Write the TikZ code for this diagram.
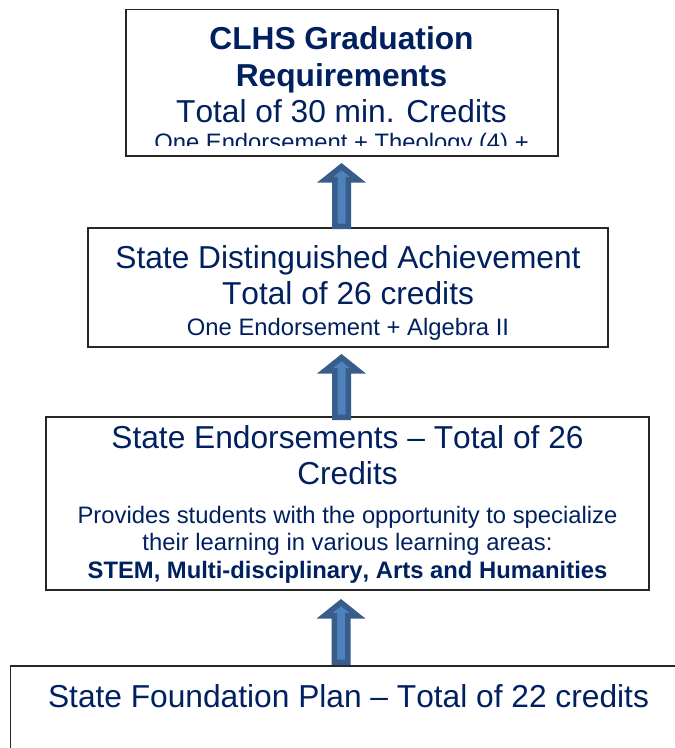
\documentclass[tikz,border=0pt]{standalone}
\usepackage{fontspec}
\setmainfont[Kerning=Off]{Liberation Sans}
\usetikzlibrary{calc}
\definecolor{txt}{RGB}{0,32,96}
\definecolor{arrfill}{RGB}{79,129,189}
\definecolor{arrline}{RGB}{56,93,138}
\tikzset{
  box/.style={draw=black!85, line width=1.2pt, fill=white, inner sep=0pt},
  bigtext/.style={font=\fontsize{31.7}{36}\selectfont, text=txt, anchor=base, inner sep=0pt},
  smalltext/.style={font=\fontsize{23.8}{27}\selectfont, text=txt, anchor=base, inner sep=0pt},
  blockarr/.style={draw=arrline, fill=arrfill, line width=5.5pt, line join=miter}
}
\newcommand\myuparrow[1]{%
  \draw[blockarr] ($(#1)+(-6.75,0)$) -- ($(#1)+(-6.75,-46.5)$) -- ($(#1)+(-16.5,-46.5)$)
    -- ($(#1)+(0,-59.7)$) -- ($(#1)+(16.5,-46.5)$) -- ($(#1)+(6.75,-46.5)$)
    -- ($(#1)+(6.75,0)$) -- cycle;}
\begin{document}
\begin{tikzpicture}[x=1pt,y=-1pt]
  \clip (0,0) rectangle (675,748);
  \fill[white] (0,0) rectangle (675,748);

  % boxes
  \node[box, minimum width=432pt, minimum height=146.7pt] (b1) at (342,82.6) {};
  \node[box, minimum width=520pt, minimum height=119pt] (b2) at (348,287.5) {};
  \node[box, minimum width=603pt, minimum height=173pt] (b3) at (347.5,503.5) {};
  \node[box, minimum width=676pt, minimum height=120pt] (b4) at (348.5,726) {};

  % box 1 texts
  \node[bigtext] (t11) at (341.5,49) {\textbf{CLHS Graduation}};
  \node[bigtext] (t12) at (341.5,86) {\textbf{Requirements}};
  \node[bigtext] (t13) at (341.5,122) {Total of 30 min. Credits};
  \begin{scope}
    \clip (127,10) rectangle (557,145);
    \node[smalltext] (t14) at (341.5,150.5) {One Endorsement + Theology (4) +};
  \end{scope}

  % box 2 texts
  \node[bigtext] (t21) at (348,268.3) {State Distinguished Achievement};
  \node[bigtext] (t22) at (348,304.5) {Total of 26 credits};
  \node[smalltext] (t23) at (348,335) {One Endorsement + Algebra II};

  % box 3 texts
  \node[bigtext] (t31) at (347.5,448) {State Endorsements – Total of 26};
  \node[bigtext] (t32) at (347.5,484) {Credits};
  \node[smalltext] (t33) at (347.5,523.3) {Provides students with the opportunity to specialize};
  \node[smalltext] (t34) at (347.5,550.8) {their learning in various learning areas:};
  \node[smalltext] (t35) at (347.5,578.3) {\textbf{STEM, Multi-disciplinary, Arts and Humanities}};

  % box 4 text
  \node[bigtext] (t41) at (348.5,707) {State Foundation Plan – Total of 22 credits};

  % block arrows
  \coordinate (a1) at (341.5,226.25);
  \coordinate (a2) at (341.5,417.25);
  \coordinate (a3) at (341,662.25);
  \myuparrow{a1}
  \myuparrow{a2}
  \myuparrow{a3}
\end{tikzpicture}
\end{document}
